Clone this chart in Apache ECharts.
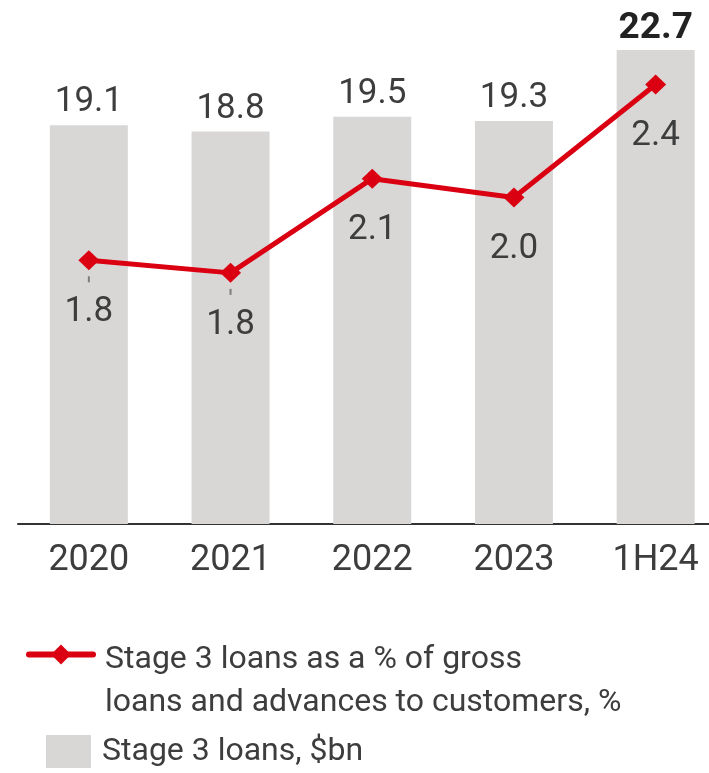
<!DOCTYPE html>
<html>
<head>
<meta charset="utf-8">
<script src="https://cdn.jsdelivr.net/npm/echarts@6/dist/echarts.min.js"></script>
<style>
  html, body { margin: 0; padding: 0; background: #fff; }
  #chart { width: 709px; height: 773px; }
</style>
</head>
<body>
<div id="chart"></div>
<script>
// Periods on the horizontal axis
const periods = ['2020', '2021', '2022', '2023', '1H24'];
// Stage 3 loans, $bn
const stage3Loans = [19.1, 18.8, 19.5, 19.3, 22.7];
// Stage 3 loans as a % of gross loans and advances to customers
const stage3Pct = [1.84, 1.80, 2.10, 2.04, 2.40];
// Points whose value label carries a small leader tick
const pctLeader = [true, true, false, false, false];

const barName = 'Stage 3 loans, $bn';
const lineName = 'Stage 3 loans as a % of gross loans and advances to customers, %';

const FONT = 'Roboto, "Noto Sans", sans-serif';
const TEXT = '#3d3d3d';
const RED = '#db0011';
const GREY = '#d8d7d6';

const chart = echarts.init(document.getElementById('chart'));

chart.setOption({
  animation: false,
  textStyle: { fontFamily: FONT },
  grid: { left: 18, right: -17.5, top: 50, bottom: 249, outerBoundsMode: 'none', containLabel: false },
  xAxis: {
    type: 'category',
    data: periods,
    axisLine: { lineStyle: { color: '#333', width: 2 } },
    axisTick: { show: false },
    axisLabel: { color: TEXT, fontSize: 36, margin: 19, fontFamily: FONT }
  },
  yAxis: [
    { type: 'value', min: 0, max: 22.7, show: false },
    { type: 'value', min: 1.0, max: 2.51, show: false }
  ],
  legend: [
    {
      data: [lineName],
      left: 26, top: 595.5, padding: 0, orient: 'vertical',
      itemWidth: 64, itemHeight: 25,
      lineStyle: { width: 6, cap: 'round' },
      // a spacer line above keeps the icon level with the first text line
      formatter: n => '{g|\u200b}\n{t|' + n.replace('gross ', 'gross}\n{t|') + '}',
      textStyle: {
        color: TEXT, fontSize: 32, padding: [0, 0, 0, 7], fontFamily: FONT,
        rich: {
          g: { lineHeight: 53, fontSize: 32, fontFamily: FONT },
          t: { lineHeight: 43, fontSize: 32, fontFamily: FONT, color: TEXT }
        }
      }
    },
    {
      data: [{ name: barName, icon: 'rect' }],
      left: 46, top: 735, padding: 0, orient: 'vertical',
      itemWidth: 45, itemHeight: 33,
      textStyle: { color: TEXT, fontSize: 32, lineHeight: 33, padding: [0, 0, 0, 6], fontFamily: FONT }
    }
  ],
  series: [
    {
      name: barName,
      type: 'bar',
      yAxisIndex: 0,
      barWidth: 78,
      data: stage3Loans.map((v, i) => i === stage3Loans.length - 1
        ? { value: v, label: { fontWeight: 'bold', color: '#222', fontSize: 37, distance: 3 } }
        : v),
      itemStyle: { color: GREY },
      label: {
        show: true, position: 'top', distance: 5,
        color: TEXT, fontSize: 35, fontFamily: FONT,
        formatter: p => p.value.toFixed(1)
      },
      z: 1
    },
    {
      name: lineName,
      type: 'line',
      yAxisIndex: 1,
      data: stage3Pct,
      lineStyle: { color: RED, width: 5 },
      itemStyle: { color: RED },
      symbol: 'diamond',
      symbolSize: [21, 20],
      label: {
        show: true, position: 'inside', offset: [0, 52],
        color: TEXT, fontSize: 35, fontFamily: FONT,
        formatter: p => p.value.toFixed(1)
      },
      z: 3
    },
    {
      // short leader ticks under some of the percentage points
      type: 'scatter',
      yAxisIndex: 1,
      silent: true,
      data: stage3Pct.map((v, i) => pctLeader[i] ? v : null),
      symbol: 'rect',
      symbolSize: [2, 6],
      symbolOffset: [0, 19],
      itemStyle: { color: '#666' },
      z: 2
    }
  ]
});
</script>
</body>
</html>
